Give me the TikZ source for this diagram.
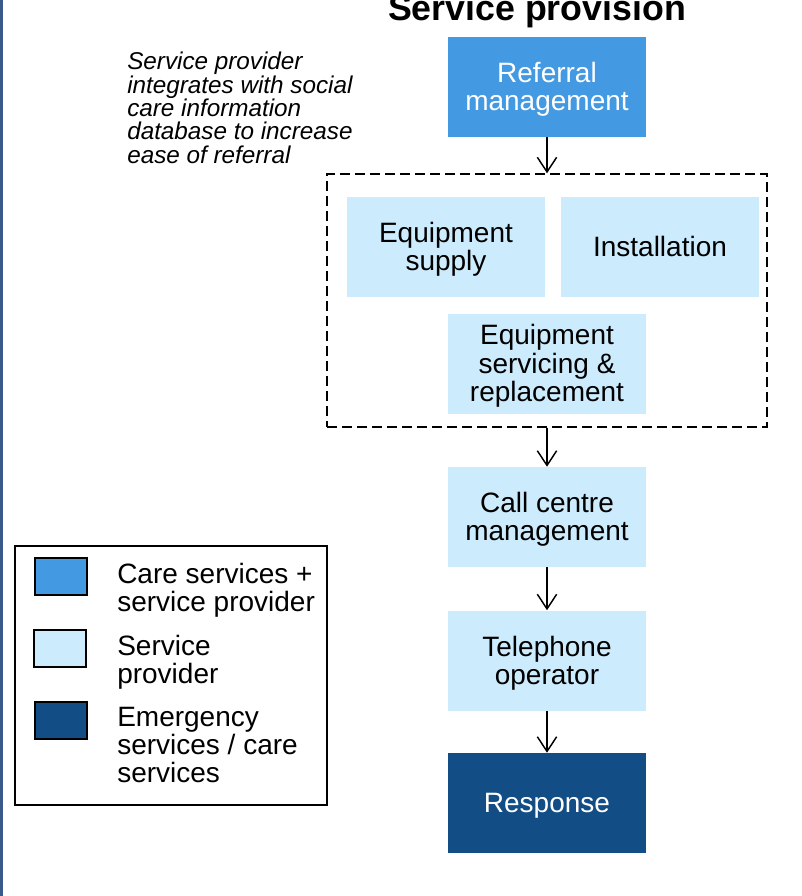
\documentclass[tikz,border=0pt]{standalone}
\usepackage{fontspec}
\setmainfont{Liberation Sans}
\usetikzlibrary{arrows.meta}
\definecolor{refblue}{RGB}{68,153,227}
\definecolor{lightblue}{RGB}{204,235,252}
\definecolor{darkblue}{RGB}{19,77,133}
\definecolor{edgeblue}{RGB}{58,90,140}
\newcommand\tp{\vrule height 0.905em width 0pt\relax}
\newcommand\bt{\vrule depth 0.212em width 0pt\relax}
\begin{document}
\begin{tikzpicture}[x=0.75pt,y=-0.75pt,
  box/.style={rectangle,minimum width=148.5pt,minimum height=75pt,inner sep=0pt,align=center,font=\fontsize{21}{21.2}\selectfont},
  lightbox/.style={box,fill=lightblue,text=black},
  refbox/.style={box,fill=refblue,text=white},
  darkbox/.style={box,fill=darkblue,text=white},
  arr/.style={draw=black,line width=1.1pt,-{Straight Barb[length=11pt,width=14.5pt,line width=1.1pt]}},
  swatch/.style={rectangle,draw=black,line width=1.1pt,minimum width=39pt,minimum height=27.75pt,inner sep=0pt},
  legtext/.style={anchor=west,align=left,inner sep=0pt,font=\fontsize{21}{21.2}\selectfont}
]
\useasboundingbox (0,0) rectangle (802,896);
\fill[white] (0,0) rectangle (802,896);
\fill[edgeblue] (0,0) rectangle (3,896);

% title
\node[anchor=base,inner sep=0pt,font=\bfseries\fontsize{26.8}{30}\selectfont] (title) at (537,20) {Service provision};

% note
\node[anchor=north west,align=left,inner sep=0pt,font=\itshape\fontsize{18.2}{17.5}\selectfont] (note) at (127,52)
  {Service provider\\integrates with social\\care information\\database to increase\\ease of referral};

% flow
\node[refbox] (ref) at (547,87) {\tp Referral\\management\bt};
\node[draw=black,line width=1.1pt,dash pattern=on 7.5pt off 3.75pt,rectangle,minimum width=330pt,minimum height=189.75pt,inner sep=0pt] (grp) at (547,300.5) {};
\node[lightbox] (eqs) at (446,247) {\tp Equipment\\supply\bt};
\node[lightbox] (inst) at (660,247) {\tp Installation\bt};
\node[lightbox] (serv) at (547,363.5) {\tp Equipment\\servicing \&\\replacement\bt};
\node[lightbox] (call) at (547,517) {\tp Call centre\\management\bt};
\node[lightbox] (tel) at (547,660.5) {\tp Telephone\\operator\bt};
\node[darkbox] (resp) at (547,803) {\tp Response\bt};

\draw[arr] (ref.south) -- (grp.north);
\draw[arr] (grp.south) -- (call.north);
\draw[arr] (call.south) -- (tel.north);
\draw[arr] (tel.south) -- (resp.north);

% legend
\node[draw=black,line width=1.5pt,rectangle,minimum width=234pt,minimum height=194.25pt,inner sep=0pt] (leg) at (171,675.5) {};
\node[swatch,fill=refblue] (s1) at (61,576.5) {};
\node[swatch,fill=lightblue] (s2) at (60,648.5) {};
\node[swatch,fill=darkblue] (s3) at (61,720.5) {};
\node[legtext] (t1) at (117,590) {Care services +\\service provider};
\node[legtext] (t2) at (117,662) {Service\\provider};
\node[legtext] (t3) at (117,745) {Emergency\\services / care\\services};
\end{tikzpicture}
\end{document}
